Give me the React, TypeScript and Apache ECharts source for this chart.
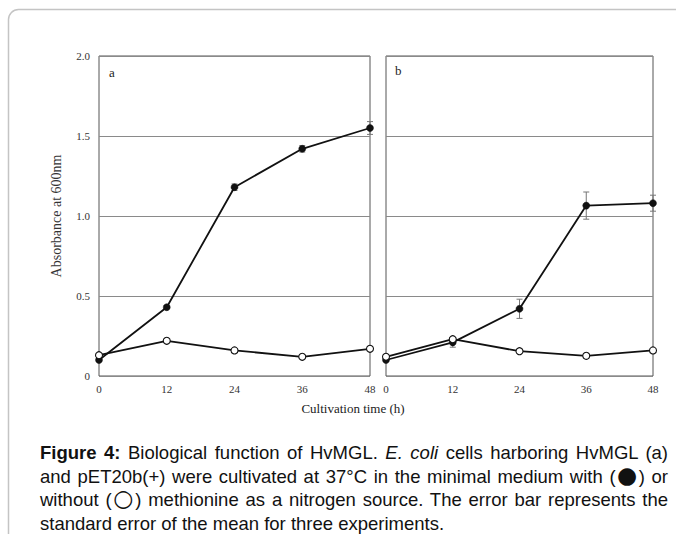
import React, { useEffect, useRef } from "react";
import * as echarts from "echarts";

const hours = [0, 12, 24, 36, 48];
const yTicks = [0, 0.5, 1.0, 1.5, 2.0];

// Panel a: HvMGL
const aWith = [0.10, 0.43, 1.18, 1.42, 1.55];
const aWithErr = [0.01, 0.01, 0.02, 0.02, 0.04];
const aWithout = [0.13, 0.22, 0.16, 0.12, 0.17];
const aWithoutErr = [0.01, 0.01, 0.01, 0.01, 0.01];

// Panel b: pET20b(+)
const bWith = [0.10, 0.21, 0.42, 1.065, 1.08];
const bWithErr = [0.01, 0.03, 0.06, 0.085, 0.05];
const bWithout = [0.12, 0.23, 0.155, 0.126, 0.16];
const bWithoutErr = [0.01, 0.01, 0.015, 0.015, 0.01];

const panelLabels = ["a", "b"];
const yAxisName = "Absorbance at 600nm";
const xAxisName = "Cultivation time (h)";

const SERIF = "'Liberation Serif', 'Times New Roman', serif";

function pts(vals: number[]) {
  return hours.map((h, i) => [h, vals[i]]);
}
function errPts(vals: number[], errs: number[]) {
  return hours.map((h, i) => [h, vals[i] - errs[i], vals[i] + errs[i]]);
}

function errSeries(idx: number, vals: number[], errs: number[]) {
  return {
    type: "custom",
    xAxisIndex: idx,
    yAxisIndex: idx,
    z: 1,
    silent: true,
    data: errPts(vals, errs),
    renderItem: (params: any, api: any) => {
      const x = api.value(0);
      const lo = api.coord([x, api.value(1)]);
      const hi = api.coord([x, api.value(2)]);
      const w = 3;
      const style = { stroke: "#777", lineWidth: 1 };
      return {
        type: "group",
        children: [
          { type: "line", shape: { x1: lo[0], y1: lo[1], x2: hi[0], y2: hi[1] }, style },
          { type: "line", shape: { x1: lo[0] - w, y1: lo[1], x2: lo[0] + w, y2: lo[1] }, style },
          { type: "line", shape: { x1: hi[0] - w, y1: hi[1], x2: hi[0] + w, y2: hi[1] }, style },
        ],
      };
    },
  };
}

function lineSeries(idx: number, vals: number[], filled: boolean) {
  return {
    type: "line",
    xAxisIndex: idx,
    yAxisIndex: idx,
    z: filled ? 3 : 4,
    data: pts(vals),
    symbol: "circle",
    symbolSize: 7,
    lineStyle: { color: "#111", width: 1.8 },
    itemStyle: filled
      ? { color: "#111", borderColor: "#111", borderWidth: 0.5 }
      : { color: "#fff", borderColor: "#111", borderWidth: 1.1 },
  };
}

export default function App() {
  const ref = useRef<HTMLDivElement>(null);

  useEffect(() => {
    if (!ref.current) return;
    const chart = echarts.init(ref.current, undefined, { renderer: "svg" });
    const xAxisCommon = {
      type: "value",
      min: 0,
      max: 48,
      interval: 12,
      axisLine: { show: false },
      axisTick: { show: false },
      splitLine: { show: false },
      axisLabel: { fontFamily: SERIF, fontSize: 11, color: "#333", margin: 7 },
    };
    const yAxisCommon = {
      type: "value",
      min: yTicks[0],
      max: yTicks[yTicks.length - 1],
      interval: 0.5,
      axisLine: { show: false },
      axisTick: { show: false },
      splitLine: { show: true, lineStyle: { color: "#8a8a8a", width: 1 } },
    };
    chart.setOption({
      animation: false,
      backgroundColor: "#fff",
      grid: [
        { left: 99, top: 56, width: 271, height: 320, show: true, borderColor: "#555", borderWidth: 1, backgroundColor: "transparent" },
        { left: 386, top: 56, width: 267, height: 320, show: true, borderColor: "#555", borderWidth: 1, backgroundColor: "transparent" },
      ],
      xAxis: [
        { ...xAxisCommon, gridIndex: 0 },
        { ...xAxisCommon, gridIndex: 1 },
      ],
      yAxis: [
        {
          ...yAxisCommon,
          gridIndex: 0,
          axisLabel: {
            fontFamily: SERIF,
            fontSize: 11,
            color: "#333",
            margin: 9,
            formatter: (v: number) => (v === 0 ? "0" : v.toFixed(1)),
          },
          name: yAxisName,
          nameLocation: "middle",
          nameGap: 36,
          nameTextStyle: { fontFamily: SERIF, fontSize: 14, color: "#333" },
        },
        { ...yAxisCommon, gridIndex: 1, axisLabel: { show: false } },
      ],
      graphic: [
        {
          type: "rect",
          shape: { x: 8.5, y: 9.5, width: 720, height: 600, r: [10, 0, 0, 0] },
          style: { fill: "none", stroke: "#c4c4c4", lineWidth: 1.5 },
          z: -1,
        },
        {
          type: "text",
          x: 109,
          y: 72,
          style: { text: panelLabels[0], font: `13px ${SERIF}`, fill: "#222", verticalAlign: "middle" },
        },
        {
          type: "text",
          x: 395,
          y: 70,
          style: { text: panelLabels[1], font: `13px ${SERIF}`, fill: "#222", verticalAlign: "middle" },
        },
        {
          type: "text",
          x: 353,
          y: 408,
          style: { text: xAxisName, font: `13px ${SERIF}`, fill: "#222", align: "center", verticalAlign: "middle" },
        },
      ],
      series: [
        errSeries(0, aWith, aWithErr),
        errSeries(0, aWithout, aWithoutErr),
        errSeries(1, bWith, bWithErr),
        errSeries(1, bWithout, bWithoutErr),
        lineSeries(0, aWith, true),
        lineSeries(0, aWithout, false),
        lineSeries(1, bWith, true),
        lineSeries(1, bWithout, false),
      ],
    });
    return () => chart.dispose();
  }, []);

  const lineStyle: React.CSSProperties = {
    textAlign: "justify",
    textAlignLast: "justify",
    whiteSpace: "nowrap",
    height: 23.5,
  };
  const sym: React.CSSProperties = { fontSize: "1.25em", lineHeight: 0, fontWeight: "bold", fontFamily: "'DejaVu Sans', sans-serif" };

  return (
    <div style={{ position: "fixed", left: 0, top: 0, width: 676, height: 534, overflow: "hidden", background: "#fff" }}>
      <div ref={ref} style={{ position: "absolute", left: 0, top: 0, width: 676, height: 534 }} />
      <div
        style={{
          position: "absolute",
          left: 40,
          top: 441,
          width: 628,
          fontFamily: "'Liberation Sans', Arial, sans-serif",
          fontSize: 18.5,
          lineHeight: "23.5px",
          color: "#111",
        }}
      >
        <div style={lineStyle}>
          <b>Figure 4:</b> Biological function of HvMGL. <i>E. coli</i> cells harboring HvMGL (a)
        </div>
        <div style={lineStyle}>
          and pET20b(+) were cultivated at 37°C in the minimal medium with (<span style={sym}>●</span>) or
        </div>
        <div style={lineStyle}>
          without (<span style={sym}>○</span>) methionine as a nitrogen source. The error bar represents the
        </div>
        <div style={{ textAlign: "left", whiteSpace: "nowrap", height: 23.5 }}>
          standard error of the mean for three experiments.
        </div>
      </div>
    </div>
  );
}
